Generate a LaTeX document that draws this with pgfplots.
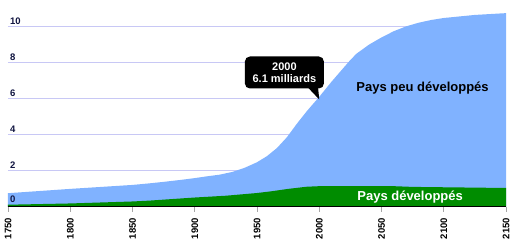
\documentclass[border=0pt]{standalone}
\usepackage{pgfplots}
\pgfplotsset{compat=1.18}
\usepackage{fontspec}
\setmainfont{Liberation Sans}
\definecolor{bluearea}{RGB}{128,178,255}
\definecolor{greenarea}{RGB}{0,140,0}
\definecolor{gridc}{RGB}{200,200,245}
\definecolor{navy}{RGB}{16,20,64}
\begin{document}
\begin{tikzpicture}
\begin{axis}[
  scale only axis, width=498pt, height=206.5pt,
  xmin=1750, xmax=2150, ymin=0, ymax=11.48,
  axis line style={draw=none},
  xtick={1750,1800,...,2150},
  xtick pos=left,
  tick align=outside,
  major tick length=5pt,
  xtick style={draw=gray!70, line width=0.8pt},
  ytick={0,2,...,10},
  ytick style={draw=none},
  ymajorgrids, grid style={gridc, line width=0.8pt},
  /pgf/number format/1000 sep={},
  /pgf/number format/assume math mode=true,
  xticklabel shift=3pt,
  yticklabel shift=-6pt,
  x tick label style={rotate=90, anchor=east, font=\fontsize{9.5}{10}\selectfont\bfseries, text=black},
  y tick label style={anchor=south west, font=\fontsize{9.5}{10}\selectfont\bfseries, text=navy, inner sep=1pt, yshift=1pt},
  yticklabel pos=left,
]
\addplot[draw=none, fill=bluearea] coordinates {
(1750,0.74) (1775,0.86) (1800,0.98) (1825,1.09) (1850,1.20) (1864,1.29) (1875,1.37)
(1890,1.49) (1900,1.58) (1910,1.68) (1920,1.77) (1930,1.92) (1940,2.15) (1950,2.46)
(1958,2.8) (1966,3.25) (1974,3.85) (1982,4.6) (1990,5.3) (2000,6.1) (2010,6.95)
(2020,7.75) (2025,8.15) (2030,8.5) (2040,9.0) (2050,9.4) (2060,9.75) (2070,10.02)
(2080,10.22) (2090,10.37) (2100,10.48) (2125,10.65) (2150,10.75)
} \closedcycle;
\addplot[draw=none, fill=greenarea] coordinates {
(1750,0.1) (1800,0.17) (1850,0.28) (1864,0.33) (1900,0.5) (1925,0.6) (1950,0.75)
(1962,0.85) (1975,0.98) (1990,1.1) (2000,1.13) (2050,1.14) (2060,1.13) (2075,1.09)
(2100,1.07) (2150,1.03)
} \closedcycle;
\draw[black, line width=1.3pt] (rel axis cs:0,0) -- (rel axis cs:1,0);
\node[anchor=south west, font=\fontsize{9.5}{10}\selectfont\bfseries, text=navy, inner sep=1pt]
  at ([xshift=1pt,yshift=2.5pt]axis cs:1750,0) {0};
\node[fill=black, text=white, rounded corners=5pt, font=\fontsize{11}{12.5}\selectfont\bfseries,
  align=center, minimum width=79pt, minimum height=32pt, inner sep=2pt] (cb)
  at (axis cs:1972,7.45) {2000\\6.1 milliards};
\fill[black] ([xshift=-16pt,yshift=1pt]cb.south east) -- (axis cs:2000,5.95) -- ([xshift=-6pt,yshift=1pt]cb.south east) -- cycle;
\node[font=\fontsize{13}{15}\selectfont\bfseries] at (axis cs:2083,6.59) {Pays peu développés};
\node[font=\fontsize{13}{15}\selectfont\bfseries, text=white] at (axis cs:2073,0.53) {Pays développés};
\end{axis}
\pgfresetboundingbox
\path ([shift={(-8pt,-41.5pt)}]current axis.south west) rectangle ([shift={(9pt,0pt)}]current axis.north east);
\end{tikzpicture}
\end{document}
